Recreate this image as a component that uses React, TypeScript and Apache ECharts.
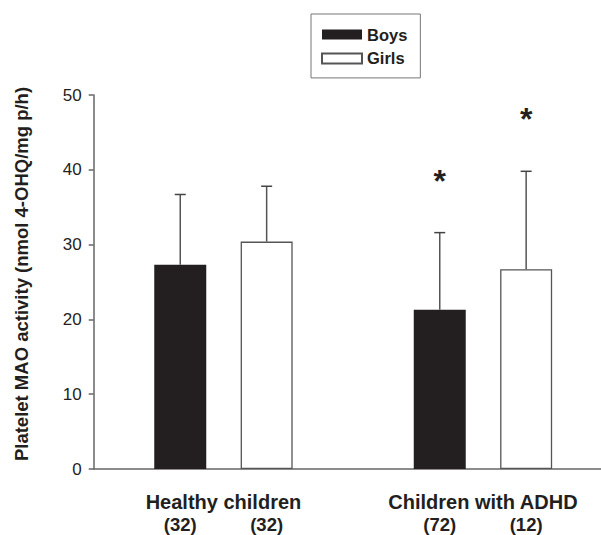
import React, { useEffect, useRef } from "react";
import * as echarts from "echarts";

const categories = ["Healthy children", "Children with ADHD"];
const boysMean = [27.3, 21.3];
const boysSD = [9.4, 10.3];
const girlsMean = [30.4, 26.7];
const girlsSD = [7.4, 13.1];
const boysN = [32, 72];
const girlsN = [32, 12];
const boysSig = [0, 1];
const girlsSig = [0, 1];
const yTicks = [0, 10, 20, 30, 40, 50];

const FONT = "'Liberation Sans', Arial, Helvetica, sans-serif";
const INK = "#231f20";
const BAR_W = 52;
const BAR_GAP = 34.4;

function errorSeries(name: string, means: number[], sds: number[], sigs: number[], dir: number) {
  return {
    type: "custom",
    name,
    z: 5,
    clip: false,
    data: means.map((m, i) => [i, m, sds[i], sigs[i]]),
    renderItem: (params: any, api: any) => {
      const i = api.value(0);
      const m = api.value(1);
      const sd = api.value(2);
      const sig = api.value(3);
      const base = api.coord([i, m]);
      const top = api.coord([i, m + sd]);
      const dx = (dir * (BAR_W + BAR_GAP)) / 2;
      const x = base[0] + dx;
      const children: any[] = [
        {
          type: "line",
          shape: { x1: x, y1: base[1], x2: x, y2: top[1] },
          style: { stroke: "#555", lineWidth: 1.5 },
        },
        {
          type: "line",
          shape: { x1: x - 5.5, y1: top[1], x2: x + 5.5, y2: top[1] },
          style: { stroke: "#444", lineWidth: 1.5 },
        },
      ];
      if (sig) {
        children.push({
          type: "text",
          x: x,
          y: top[1] - 68,
          style: {
            text: "*",
            fontSize: 32,
            fontWeight: "bold",
            fontFamily: FONT,
            fill: INK,
            align: "center",
            verticalAlign: "top",
          },
        });
      }
      return { type: "group", children };
    },
  };
}

export default function App() {
  const ref = useRef<HTMLDivElement>(null);
  useEffect(() => {
    const chart = echarts.init(ref.current!, null, { renderer: "svg" });
    const countLabel = (counts: number[]) => ({
      show: true,
      position: ["50%", "100%"],
      offset: [0, 46],
      align: "center",
      fontSize: 18.5,
      fontWeight: "bold",
      color: INK,
      fontFamily: FONT,
      formatter: (p: any) => `(${counts[p.dataIndex]})`,
    });
    chart.setOption({
      animation: false,
      backgroundColor: "#fff",
      textStyle: { fontFamily: FONT },
      legend: {
        data: ["Boys", "Girls"],
        orient: "vertical",
        left: 311,
        top: 14,
        icon: "rect",
        itemWidth: 40,
        itemHeight: 10,
        itemGap: 6.9,
        padding: [12, 13, 11, 10],
        borderColor: "#777",
        borderWidth: 1,
        textStyle: { fontSize: 16.5, lineHeight: 16, fontWeight: "bold", color: INK, fontFamily: FONT },
      },
      grid: { left: 93.7, top: 95, width: 519, height: 374 },
      xAxis: {
        type: "category",
        data: categories,
        axisTick: { show: false },
        axisLine: { lineStyle: { color: "#666", width: 1.5 } },
        axisLabel: {
          margin: 23,
          fontSize: 20,
          fontWeight: "bold",
          color: INK,
          fontFamily: FONT,
        },
      },
      yAxis: {
        type: "value",
        min: 0,
        max: 50,
        interval: 10,
        splitLine: { show: false },
        axisLine: { show: true, lineStyle: { color: "#666", width: 1.5 } },
        axisTick: { show: true, length: 5, lineStyle: { color: "#666", width: 1.5 } },
        axisLabel: {
          margin: 12,
          fontSize: 17,
          color: INK,
          fontFamily: FONT,
          formatter: (v: number) => (yTicks.includes(v) ? String(v) : ""),
        },
        name: "Platelet MAO activity (nmol 4-OHQ/mg p/h)",
        nameLocation: "middle",
        nameGap: 63,
        nameTextStyle: {
          fontSize: 18.5,
          fontWeight: "bold",
          color: INK,
          fontFamily: FONT,
          padding: [0, 0, 0, 16],
        },
      },
      series: [
        {
          type: "bar",
          name: "Boys",
          data: boysMean,
          barWidth: BAR_W,
          barGap: `${(BAR_GAP / BAR_W) * 100}%`,
          itemStyle: { color: INK },
          label: countLabel(boysN),
        },
        {
          type: "bar",
          name: "Girls",
          data: girlsMean,
          barWidth: BAR_W,
          itemStyle: { color: "#fff", borderColor: "#555", borderWidth: 1.3 },
          label: countLabel(girlsN),
        },
        errorSeries("Boys SD", boysMean, boysSD, boysSig, -1),
        errorSeries("Girls SD", girlsMean, girlsSD, girlsSig, 1),
      ],
    });
    return () => chart.dispose();
  }, []);
  return (
    <div
      style={{
        position: "fixed",
        left: 0,
        top: 0,
        width: 601,
        height: 535,
        overflow: "hidden",
        background: "#fff",
      }}
    >
      <div ref={ref} style={{ width: 630, height: 535 }} />
    </div>
  );
}
